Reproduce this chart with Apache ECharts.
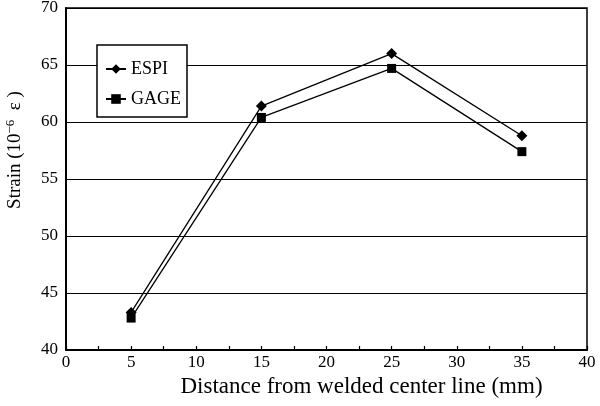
<!DOCTYPE html>
<html>
<head>
<meta charset="utf-8">
<script src="https://cdn.jsdelivr.net/npm/echarts@6/dist/echarts.min.js"></script>
<style>
  html, body { margin: 0; padding: 0; background: #fff; }
  #chart { width: 600px; height: 406px; }
</style>
</head>
<body>
<div id="chart"></div>
<script>
// Strain measured along the distance from the weld centre line
const distances = [5, 15, 25, 35];
const espiStrain = [43.3, 61.4, 66.0, 58.8];
const gageStrain = [42.8, 60.4, 64.7, 57.4];
const seriesNames = ['ESPI', 'GAGE'];

const serif = '"Liberation Serif", "DejaVu Serif", serif';

const chart = echarts.init(document.getElementById('chart'), null, { renderer: 'canvas' });

const pair = (xs, ys) => xs.map((x, i) => [x, ys[i]]);

chart.setOption({
  animation: false,
  backgroundColor: '#fff',
  grid: {
    left: 66, right: 13, top: 8, bottom: 56,
    outerBoundsMode: 'none',
    show: true, borderColor: '#000', borderWidth: 1.5
  },
  legend: {
    orient: 'vertical',
    left: 97, top: 45,
    data: seriesNames,
    backgroundColor: '#fff',
    borderColor: '#000',
    borderWidth: 1.5,
    borderRadius: 0,
    padding: [15, 6, 9, 8],
    itemGap: 12,
    itemWidth: 20,
    itemHeight: 12,
    textStyle: { fontFamily: serif, fontSize: 18, color: '#000' }
  },
  xAxis: {
    type: 'value',
    min: 0, max: 40, interval: 5,
    name: 'Distance from welded center line (mm)',
    nameLocation: 'middle',
    nameGap: 20,
    nameTextStyle: {
      fontFamily: serif, fontSize: 23, color: '#000',
      padding: [0, 0, 0, 70]
    },
    axisLine: { lineStyle: { color: '#000', width: 2 } },
    axisTick: { inside: true, length: 4, lineStyle: { color: '#000', width: 1.2 } },
    minorTick: { show: true, splitNumber: 2, length: 4, lineStyle: { color: '#000', width: 1.2 } },
    axisLabel: { fontFamily: serif, fontSize: 17, color: '#000', margin: 4 },
    splitLine: { show: false }
  },
  yAxis: {
    type: 'value',
    min: 40, max: 70, interval: 5,
    name: 'Strain (10{sup|−6}  ε )',
    nameLocation: 'middle',
    nameGap: 40,
    nameRotate: 90,
    nameTextStyle: {
      fontFamily: serif, fontSize: 19, color: '#000',
      padding: [0, 0, 0, 58],
      rich: {
        sup: { fontFamily: serif, fontSize: 13, color: '#000', verticalAlign: 'top', lineHeight: 22 }
      }
    },
    axisLine: { lineStyle: { color: '#000', width: 2 } },
    axisTick: { show: false },
    axisLabel: { fontFamily: serif, fontSize: 17, color: '#000', margin: 8 },
    splitLine: { lineStyle: { color: '#000', width: 1.2 } }
  },
  series: [
    {
      name: 'ESPI',
      type: 'line',
      data: pair(distances, espiStrain),
      symbol: 'diamond',
      symbolSize: 11,
      itemStyle: { color: '#000' },
      lineStyle: { color: '#000', width: 1.3 }
    },
    {
      name: 'GAGE',
      type: 'line',
      data: pair(distances, gageStrain),
      symbol: 'rect',
      symbolSize: 9,
      itemStyle: { color: '#000' },
      lineStyle: { color: '#000', width: 1.3 }
    }
  ]
});
</script>
</body>
</html>
